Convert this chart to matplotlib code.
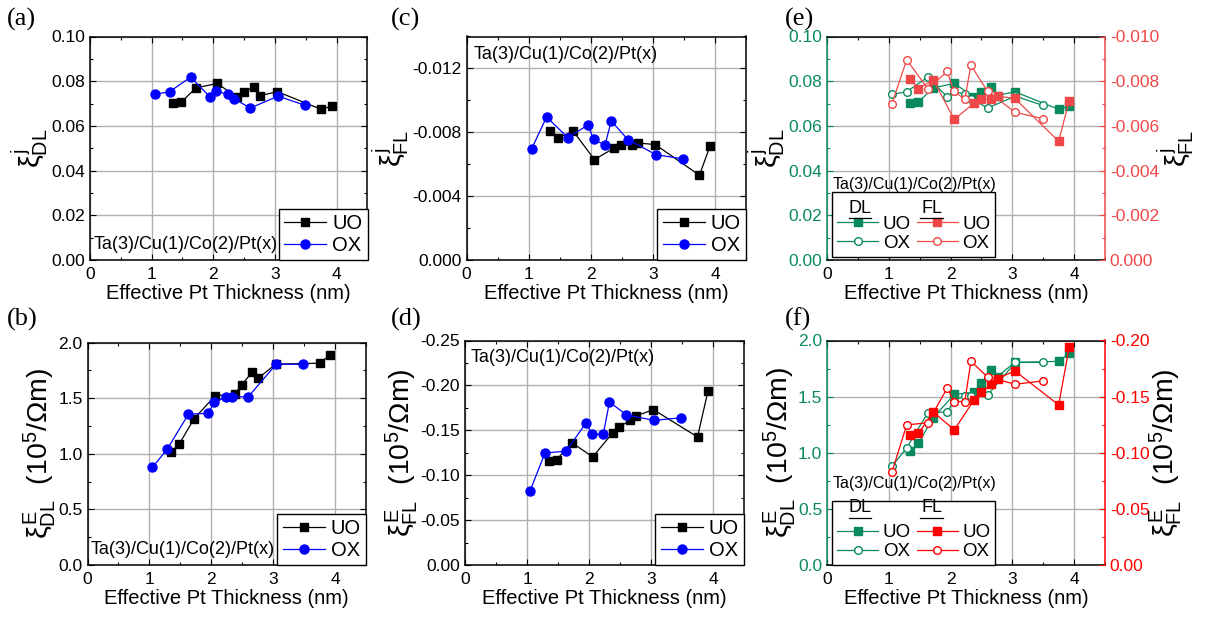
import numpy as np
import matplotlib
matplotlib.use("Agg")
import matplotlib.pyplot as plt
from matplotlib.lines import Line2D
from matplotlib.ticker import MultipleLocator, FormatStrFormatter

plt.rcParams["font.family"] = ["Liberation Sans", "DejaVu Sans"]
plt.rcParams["mathtext.fontset"] = "custom"
plt.rcParams["mathtext.rm"] = "Liberation Sans"
plt.rcParams["mathtext.it"] = "Liberation Sans"
plt.rcParams["mathtext.bf"] = "Liberation Sans:bold"
plt.rcParams["axes.unicode_minus"] = False

# effective Pt thickness (nm)
x_uo = [1.35, 1.48, 1.72, 2.06, 2.38, 2.49, 2.66, 2.76, 3.04, 3.75, 3.92]
x_ox = [1.05, 1.29, 1.63, 1.95, 2.05, 2.23, 2.33, 2.60, 3.05, 3.49]

# spin Hall efficiencies
jdl_uo = [0.0704, 0.0707, 0.0770, 0.0790, 0.0730, 0.0751, 0.0775, 0.0736, 0.0753, 0.0674, 0.0689]
jdl_ox = [0.0741, 0.0753, 0.0818, 0.0729, 0.0756, 0.0741, 0.0722, 0.0680, 0.0733, 0.0692]
jfl_uo = [-0.00808, -0.00767, -0.00806, -0.00629, -0.00702, -0.00719, -0.00719, -0.00733,
          -0.00723, -0.00531, -0.00713]
jfl_ox = [-0.00698, -0.00896, -0.00767, -0.00844, -0.00756, -0.00719, -0.00871, -0.00754,
          -0.00660, -0.00633]

# spin Hall conductivities (10^5/Ohm m)
edl_uo = [1.013, 1.085, 1.313, 1.520, 1.538, 1.619, 1.733, 1.679, 1.805, 1.814, 1.888]
edl_ox = [0.878, 1.043, 1.355, 1.364, 1.463, 1.508, 1.508, 1.514, 1.805, 1.805]
efl_uo = [-0.1159, -0.1174, -0.1363, -0.1204, -0.1470, -0.1537, -0.1610, -0.1660, -0.1730,
          -0.1426, -0.1940]
efl_ox = [-0.0826, -0.1248, -0.1267, -0.1580, -0.1456, -0.1456, -0.1815, -0.1674, -0.1610, -0.1640]

stack = "Ta(3)/Cu(1)/Co(2)/Pt(x)"
xlabel = "Effective Pt Thickness (nm)"
lab_jdl = r"$\xi^{\mathrm{j}}_{\mathrm{DL}}$"
lab_jfl = r"$\xi^{\mathrm{j}}_{\mathrm{FL}}$"
lab_edl = r"$\xi^{\mathrm{E}}_{\mathrm{DL}}$  (10$^5$/Ωm)"
lab_efl = r"$\xi^{\mathrm{E}}_{\mathrm{FL}}$  (10$^5$/Ωm)"

GREEN = "#0a8a5c"
RED_E = "#f04848"
RED_F = "#ff0000"
BLUE = "#0000ff"
YLS = 20.5  # y label size

W, H = 1205, 617
fig = plt.figure(figsize=(W / 100, H / 100), dpi=100)


def add_ax(left, top, right, bottom):
    return fig.add_axes([left / W, 1 - bottom / H, (right - left) / W, (bottom - top) / H])


def style(ax, ymax, ymaj, ymin, fmt):
    ax.set_xlim(0, 4.5)
    ax.set_ylim(0, ymax)
    ax.xaxis.set_major_locator(MultipleLocator(1))
    ax.xaxis.set_minor_locator(MultipleLocator(0.5))
    ax.yaxis.set_major_locator(MultipleLocator(ymaj))
    ax.yaxis.set_minor_locator(MultipleLocator(ymin))
    ax.yaxis.set_major_formatter(FormatStrFormatter(fmt))
    ax.grid(True, which="major", color="#b0b0b0", linewidth=1.0)
    ax.set_axisbelow(True)
    ax.tick_params(which="both", direction="in", top=True, right=True, labelsize=12.5, width=0.8)
    ax.tick_params(which="major", length=4)
    ax.tick_params(which="minor", length=2.5)
    ax.tick_params(axis="x", pad=5)
    for s in ax.spines.values():
        s.set_linewidth(1.1)
    ax.set_xlabel(xlabel, fontsize=14.5, labelpad=1.5)


def simple_legend(ax):
    leg = ax.legend(loc="lower right", borderaxespad=0, fontsize=14.5, fancybox=False,
                    edgecolor="black", framealpha=1, handlelength=2.1, labelspacing=0.15,
                    borderpad=0.25, handletextpad=0.3)
    leg.get_frame().set_linewidth(1.0)


def plot_pair(ax, yu, yo):
    ax.plot(x_uo, yu, "-s", color="black", lw=0.9, ms=6, label="UO")
    ax.plot(x_ox, yo, "-o", color=BLUE, lw=0.9, ms=6.5, label="OX")


# (a)
ax = add_ax(90, 36.5, 367.5, 260)
plot_pair(ax, jdl_uo, jdl_ox)
style(ax, 0.10, 0.02, 0.01, "%.2f")
ax.set_ylabel(lab_jdl, fontsize=YLS, labelpad=0)
simple_legend(ax)
ax.text(0.012, 0.07, stack, transform=ax.transAxes, fontsize=13, va="center")

# (b)
ax = add_ax(87.5, 342.5, 366, 565)
plot_pair(ax, edl_uo, edl_ox)
style(ax, 2.0, 0.5, 0.25, "%.1f")
ax.set_ylabel(lab_edl, fontsize=YLS, labelpad=0)
simple_legend(ax)
ax.text(0.012, 0.07, stack, transform=ax.transAxes, fontsize=13, va="center")

# (c)
ax = add_ax(466.5, 36.5, 746, 260)
plot_pair(ax, jfl_uo, jfl_ox)
style(ax, -0.014, 0.004, 0.002, "%.3f")
ax.set_ylabel(lab_jfl, fontsize=YLS, labelpad=0)
simple_legend(ax)
ax.text(0.025, 0.92, stack, transform=ax.transAxes, fontsize=13, va="center")

# (d)
ax = add_ax(465, 340.5, 744, 565)
plot_pair(ax, efl_uo, efl_ox)
style(ax, -0.25, 0.05, 0.025, "%.2f")
ax.set_ylabel(lab_efl, fontsize=YLS, labelpad=0)
simple_legend(ax)
ax.text(0.02, 0.925, stack, transform=ax.transAxes, fontsize=13, va="center")


def combo(top, bottom, ydl_uo, ydl_ox, yfl_uo, yfl_ox, lmax, lmaj, lmin, lfmt,
          rmax, rmaj, rmin, rfmt, red, llab, rlab, txt_y, leg_y, hdr_y):
    ax = add_ax(827, top, 1105, bottom)
    ax.plot(x_uo, ydl_uo, "-s", color=GREEN, lw=0.9, ms=5.5)
    ax.plot(x_ox, ydl_ox, "-o", color=GREEN, mfc="white", lw=0.9, ms=5.5)
    style(ax, lmax, lmaj, lmin, lfmt)
    ax.tick_params(axis="y", which="both", right=False, colors=GREEN)
    ax.spines["left"].set_color(GREEN)
    ax.spines["right"].set_visible(False)
    ax.set_ylabel(llab, fontsize=YLS, labelpad=0)

    tw = ax.twinx()
    tw.plot(x_uo, yfl_uo, "-s", color=red, lw=0.9, ms=5.5)
    tw.plot(x_ox, yfl_ox, "-o", color=red, mfc="white", lw=0.9, ms=5.5)
    tw.set_ylim(0, rmax)
    tw.yaxis.set_major_locator(MultipleLocator(rmaj))
    tw.yaxis.set_minor_locator(MultipleLocator(rmin))
    tw.yaxis.set_major_formatter(FormatStrFormatter(rfmt))
    tw.tick_params(which="both", direction="in", colors=red, labelsize=12.5, width=0.8)
    tw.tick_params(which="major", length=4)
    tw.tick_params(which="minor", length=2.5)
    tw.spines["right"].set_color(red)
    tw.spines["right"].set_linewidth(1.1)
    for s in ["left", "top", "bottom"]:
        tw.spines[s].set_visible(False)
    tw.set_ylabel(rlab, fontsize=YLS, labelpad=-2)

    blank = Line2D([], [], linestyle="none")
    handles = [blank,
               Line2D([], [], color=GREEN, marker="s", lw=0.9, ms=5.5),
               Line2D([], [], color=GREEN, marker="o", mfc="white", lw=0.9, ms=5.5),
               blank,
               Line2D([], [], color=red, marker="s", lw=0.9, ms=5.5),
               Line2D([], [], color=red, marker="o", mfc="white", lw=0.9, ms=5.5)]
    labels = ["", "UO", "OX", "", "UO", "OX"]
    leg = tw.legend(handles, labels, ncol=2, loc="lower left", bbox_to_anchor=(0.019, leg_y),
                    borderaxespad=0, fontsize=13.5, fancybox=False, edgecolor="black",
                    framealpha=1, handlelength=2.2, labelspacing=0.1, borderpad=0.25,
                    handletextpad=0.25, columnspacing=0.3)
    leg.get_frame().set_linewidth(1.0)
    for hx, h in [(0.12, "DL"), (0.376, "FL")]:
        tw.text(hx, hdr_y, h, transform=tw.transAxes, fontsize=13, ha="center", va="center",
                zorder=10)
        tw.plot([hx - 0.04, hx + 0.04], [hdr_y - 0.045] * 2, color="black", lw=0.9,
                transform=tw.transAxes, zorder=10, clip_on=False)
    tw.text(0.02, txt_y, stack, transform=tw.transAxes, fontsize=11.5, va="center")
    return ax, tw


# (e)
ax_e, tw_e = combo(36.5, 260, jdl_uo, jdl_ox, jfl_uo, jfl_ox, 0.10, 0.02, 0.01, "%.2f",
                   -0.010, 0.002, 0.001, "%.3f", RED_E, lab_jdl, lab_jfl, 0.336, 0.015, 0.231)
# (f)
ax_f, tw_f = combo(340.5, 565, edl_uo, edl_ox, efl_uo, efl_ox, 2.0, 0.5, 0.25, "%.1f",
                   -0.20, 0.05, 0.025, "%.2f", RED_F, lab_edl, lab_efl, 0.364, 0.0, 0.255)

# panel letters
for px, py, t in [(7, 19, "(a)"), (7, 319, "(b)"), (391, 19, "(c)"), (391, 319, "(d)"),
                  (785, 19, "(e)"), (785, 319, "(f)")]:
    fig.text(px / W, 1 - py / H, t, fontsize=19, family="Liberation Serif", va="center")

fig.savefig("out.png", dpi=100)
